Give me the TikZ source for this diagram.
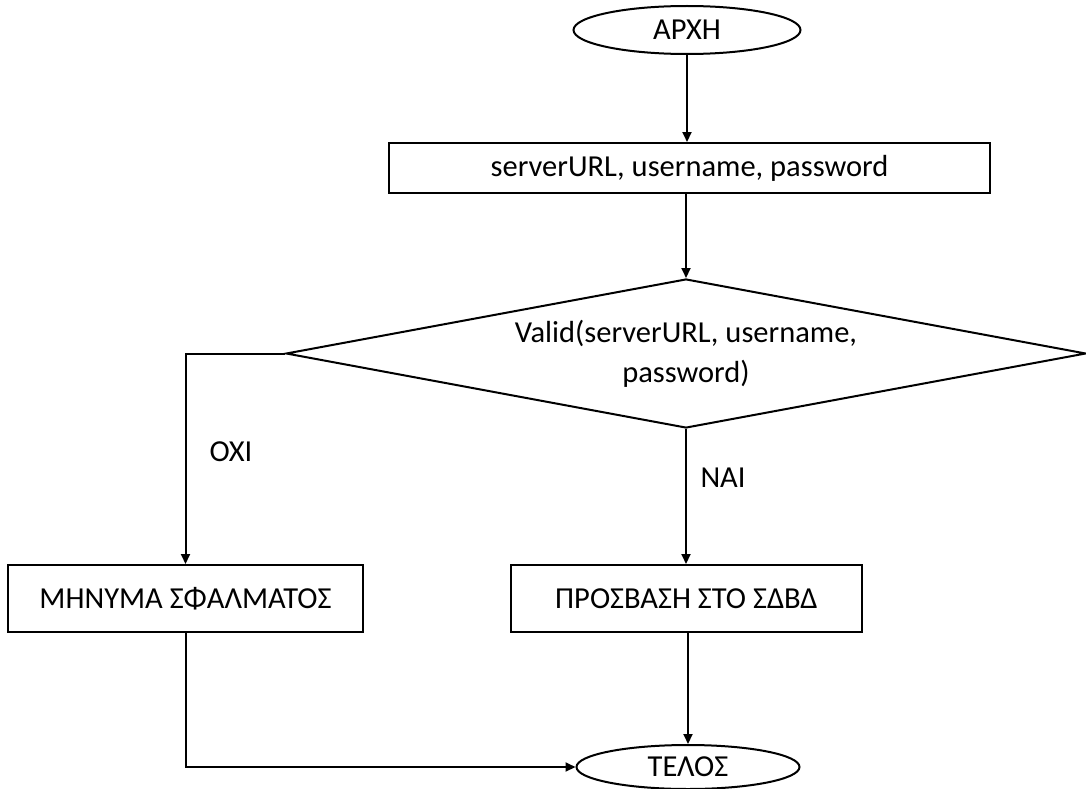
\documentclass[tikz,border=0pt]{standalone}
\usepackage{fontspec}
\setmainfont{Carlito}
\usetikzlibrary{shapes.geometric,arrows.meta}
\tikzset{
  every node/.style={font=\fontsize{30.5}{40}\selectfont},
  base/.style={draw=black, line width=2pt, inner sep=0pt},
  term/.style={base, ellipse},
  proc/.style={base, rectangle},
  cond/.style={base, diamond, aspect=5.37, align=center},
  arr/.style={line width=2pt, -{Triangle[length=10pt,width=9pt]}},
  lbl/.style={inner sep=0pt}
}
\begin{document}
\begin{tikzpicture}[x=1pt,y=-1pt]
\useasboundingbox (0,0) rectangle (1086,789);
\node[term, minimum width=227, minimum height=48] (start) at (687,30) {ΑΡΧΗ};
\node[proc, minimum width=601, minimum height=50] (inp) at (689.5,168) {serverURL, username, password};
\node[cond, minimum width=800, minimum height=149] (dec) at (686,353.5) {Valid(serverURL, username,\\password)};
\node[proc, minimum width=355, minimum height=67] (err) at (185.5,598.5) {ΜΗΝΥΜΑ ΣΦΑΛΜΑΤΟΣ};
\node[proc, minimum width=351, minimum height=67] (acc) at (686.5,598.5) {ΠΡΟΣΒΑΣΗ ΣΤΟ ΣΔΒΔ};
\node[term, minimum width=223, minimum height=44] (end) at (688,767) {ΤΕΛΟΣ};
\node[lbl] (no) at (231,452) {ΟΧΙ};
\node[lbl] (yes) at (723,478) {ΝΑΙ};
\draw[arr] (start.south) -- (start.south |- inp.north);
\draw[arr] (inp.south -| dec.north) -- (dec.north);
\draw[arr] (dec.west) -| (err.north);
\draw[arr] (dec.south) -- (dec.south |- acc.north);
\draw[arr] (acc.south -| end.north) -- (end.north);
\draw[arr] (err.south) |- (end.west);
\end{tikzpicture}
\end{document}
